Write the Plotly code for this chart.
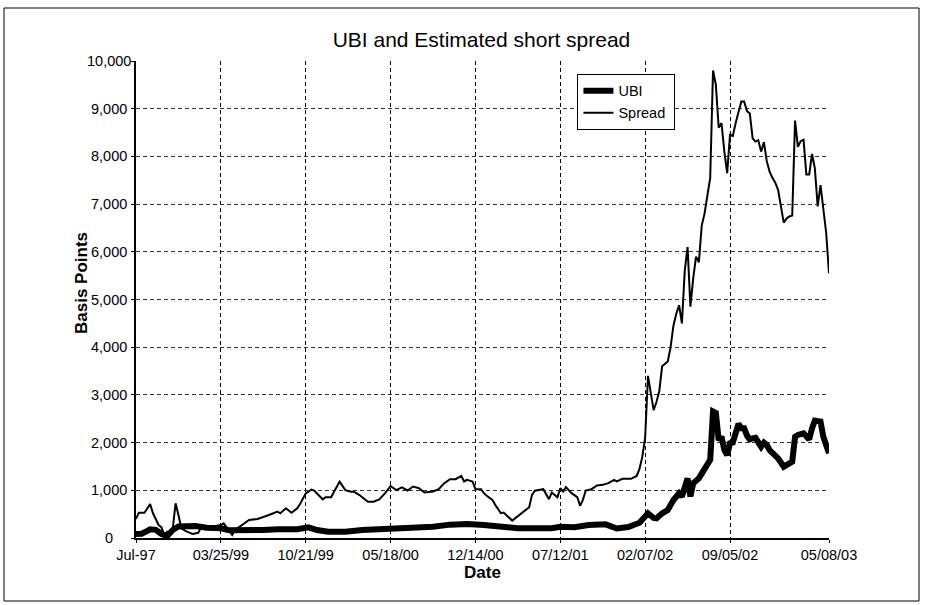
import plotly.graph_objects as go

# Category positions (weekly index on the category axis) and values in basis points
spread_idx = [0, 1, 3, 5, 6, 8, 9, 10, 11, 12, 13, 14, 15, 16, 18, 20, 22, 23, 26, 30, 31, 32, 34, 35, 38,
              40, 43, 45, 47, 50, 51, 53, 55, 57, 58, 60, 62, 63, 66, 67, 69, 70, 72, 74, 76, 77, 79, 82,
              84, 86, 88, 90, 92, 94, 96, 98, 100, 102, 105, 107, 109, 111, 113, 115, 116, 117, 119, 120,
              122, 123, 124, 126, 127, 129, 130, 133, 134, 136, 139, 140, 141, 144, 146, 147, 149, 150,
              151, 152, 154, 156, 157, 158, 159, 161, 163, 165, 167, 169, 170, 172, 175, 177, 178, 179,
              180, 181, 182, 183, 184, 185, 186, 187, 188, 189, 190, 191, 192, 193, 194, 195, 196, 197,
              198, 199, 200, 201, 202, 203, 204, 205, 206, 207, 208, 209, 210, 211, 212, 213, 214, 215,
              216, 217, 218, 219, 220, 221, 222, 223, 224, 225, 226, 227, 228, 229, 230, 231, 232, 233,
              234, 235, 236, 237, 238, 239, 240, 241, 242, 243, 244, 245]
spread = [400, 530, 530, 713, 518, 272, 224, 60, 132, 63, 203, 727, 482, 203, 132, 83, 108, 224, 224, 272,
          307, 224, 63, 168, 296, 378, 400, 435, 482, 552, 518, 622, 530, 622, 713, 936, 1015, 993, 811,
          853, 853, 970, 1180, 1003, 970, 970, 900, 760, 760, 811, 936, 1090, 1003, 1060, 996, 1080, 1043,
          953, 975, 1023, 1150, 1234, 1234, 1304, 1185, 1220, 1185, 1023, 1023, 940, 885, 800, 695, 520,
          533, 365, 414, 505, 645, 905, 990, 1023, 814, 953, 856, 1043, 975, 1067, 940, 856, 675, 800,
          996, 1023, 1100, 1114, 1150, 1220, 1185, 1240, 1240, 1300, 1450, 1700,
          2100, 3400, 3000, 2680, 2850, 3080, 3600, 3650, 3700, 4000, 4450, 4700, 4880, 4500, 5600, 6100,
          4850, 5450, 5900, 5780, 6550, 6800, 7150, 7550, 9800, 9500, 8600, 8700, 8100, 7650, 8450, 8430,
          8700, 8950, 9150, 9150, 8950, 8900, 8380, 8310, 8340, 8100, 8300, 7900, 7680, 7550, 7450, 7300,
          6950, 6610, 6700, 6740, 6760, 8750, 8200, 8320, 8350, 7620, 7620, 8050, 7750, 6950, 7400, 6950,
          6400, 5550]

ubi_idx = [0, 2, 4, 5, 7, 9, 11, 13, 15, 17, 21, 25, 30, 33, 37, 45, 50, 57, 61, 64, 68, 74, 80, 87, 95,
           99, 105, 111, 117, 123, 129, 135, 141, 147, 150, 155, 160, 166, 170, 174, 178, 179, 181, 183,
           184, 186, 188, 190, 192, 193, 194, 195, 196, 197, 198, 199, 200, 201, 202, 203, 204, 205, 206,
           207, 208, 209, 210, 211, 212, 213, 214, 215, 216, 217, 218, 219, 221, 222, 223, 224, 227, 229,
           231, 232, 233, 234, 236, 238, 239, 240, 242, 243, 245]
ubi = [84, 90, 150, 182, 170, 84, 42, 168, 240, 251, 251, 216, 203, 160, 154, 168, 182, 182, 224, 168,
       133, 133, 168, 182, 224, 230, 237, 280, 293, 273, 237, 203, 203, 203, 237, 224, 273, 287, 200,
       230, 321, 398, 517, 420, 412, 517, 587, 796, 936, 870, 1100, 1250, 870, 1150, 1200, 1250, 1350,
       1440, 1560, 1640, 2650, 2620, 2050, 2124, 1844, 1740, 1985, 2000, 2200, 2390, 2300, 2300, 2150,
       2068, 2090, 2100, 1914, 2000, 1950, 1844, 1670, 1495, 1565, 1600, 2124, 2160, 2195, 2068, 2300,
       2460, 2440, 2124, 1775]

tick_pos = [0, 30, 60, 90, 120, 150, 180, 210, 245]
tick_labels = ["Jul-97", "03/25/99", "10/21/99", "05/18/00", "12/14/00", "07/12/01",
               "02/07/02", "09/05/02", "05/08/03"]
y_ticks = [0, 1000, 2000, 3000, 4000, 5000, 6000, 7000, 8000, 9000, 10000]

FONT = "Liberation Sans, Arial, sans-serif"
TICK = 14.5

fig = go.Figure()
fig.add_trace(go.Scatter(x=ubi_idx, y=ubi, mode="lines", name="UBI",
                         line=dict(color="black", width=6)))
fig.add_trace(go.Scatter(x=spread_idx, y=spread, mode="lines", name="Spread\u00a0",
                         line=dict(color="black", width=2)))

L, R, T, B = 136, 829, 61, 538
W, H = R - L, B - T

fig.update_layout(
    width=925, height=605,
    paper_bgcolor="white", plot_bgcolor="white",
    margin=dict(l=L, r=925 - R, t=T, b=605 - B),
    font=dict(family=FONT, color="black", size=TICK),
    title=dict(text="UBI and Estimated short spread", x=0.5205, xanchor="center",
               y=1 - 40 / 605, yanchor="middle", font=dict(size=21, family=FONT)),
    showlegend=True,
    legend=dict(x=0.637, y=0.973, xanchor="left", yanchor="top",
                bordercolor="black", borderwidth=1, bgcolor="white",
                font=dict(size=TICK, family=FONT), itemwidth=30,
                tracegroupgap=0),
    xaxis=dict(range=[0, 245], tickmode="array", tickvals=tick_pos, ticktext=tick_labels,
               showgrid=True, gridcolor="black", griddash="4px,3px", gridwidth=1,
               showline=True, linecolor="black", linewidth=2,
               ticks="outside", ticklen=3, tickcolor="black",
               zeroline=False, tickangle=0,
               title=dict(text="<b>Date</b>", font=dict(size=17, family=FONT), standoff=4),
               tickfont=dict(size=TICK, family=FONT)),
    yaxis=dict(range=[0, 10000], tickmode="array", tickvals=y_ticks, showticklabels=False,
               showgrid=True, gridcolor="#333333", griddash="4px,3px", gridwidth=1,
               showline=True, linecolor="black", linewidth=2,
               ticks="outside", ticklen=3, tickcolor="black",
               zeroline=False),
)

# y tick labels, centred as in the original chart
for v in y_ticks:
    fig.add_annotation(x=(109 - L) / W, xref="paper", y=v, yref="y",
                       text=f"{v:,}", showarrow=False, xanchor="center", yanchor="middle",
                       font=dict(size=TICK, family=FONT, color="black"))

# y axis title
fig.add_annotation(x=(81 - L) / W, xref="paper", y=(B - 283) / H, yref="paper",
                   text="<b>Basis Points</b>", textangle=-90, showarrow=False,
                   xanchor="center", yanchor="middle",
                   font=dict(size=17, family=FONT, color="black"))

# outer chart frame
fig.add_shape(type="rect", xref="paper", yref="paper",
              x0=(4 - L) / W, x1=(919 - L) / W, y0=(B - 601) / H, y1=(B - 8) / H,
              line=dict(color="black", width=1), layer="below")

fig.write_html("out.html", config={"displayModeBar": False},
               post_script="document.body.style.margin='0';document.body.style.overflow='hidden';")
